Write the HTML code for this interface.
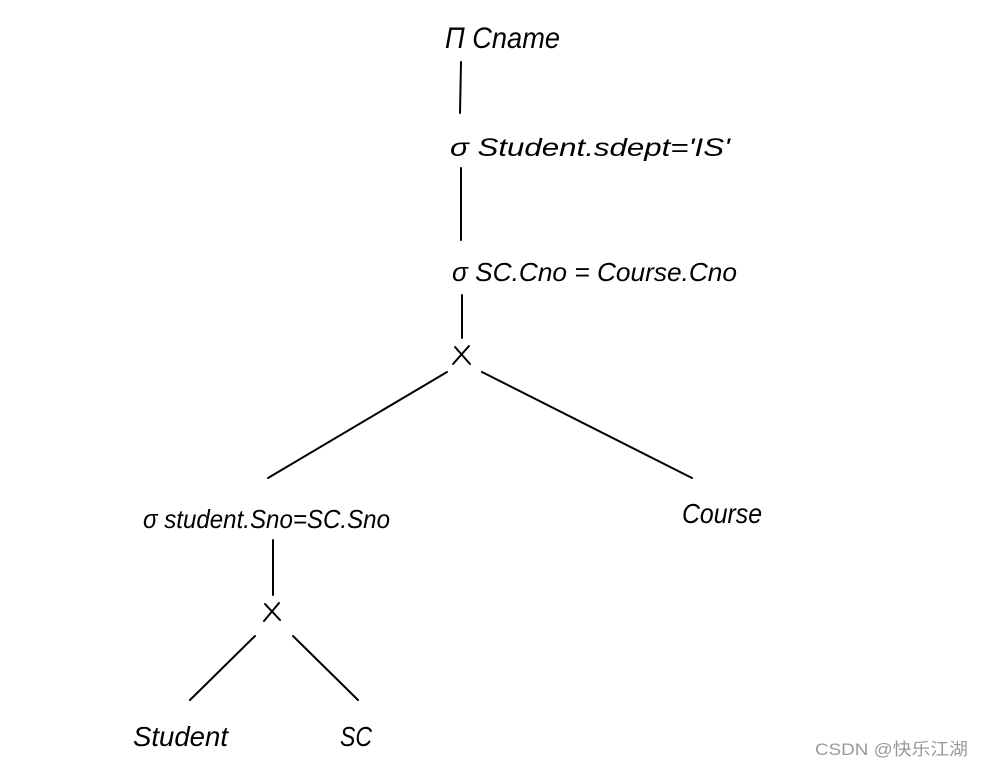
<!DOCTYPE html>
<html><head><meta charset="utf-8"><style>
html,body{margin:0;padding:0;background:#fff;}
svg{display:block}
text{font-family:"Liberation Sans",sans-serif;font-style:italic;fill:#000;}
</style></head><body>
<svg width="982" height="768" viewBox="0 0 982 768" xmlns="http://www.w3.org/2000/svg">
<g stroke="#000" stroke-width="2" fill="none" stroke-linecap="round">
<line x1="461" y1="62" x2="460" y2="113"/>
<line x1="461" y1="168" x2="461" y2="240"/>
<line x1="462" y1="295" x2="462" y2="338"/>
<line x1="455" y1="347" x2="470" y2="364"/>
<line x1="469" y1="346" x2="453" y2="364"/>
<line x1="447" y1="372" x2="268" y2="478"/>
<line x1="482" y1="372" x2="692" y2="478"/>
<line x1="273" y1="540" x2="273" y2="595"/>
<line x1="265" y1="604" x2="280" y2="620"/>
<line x1="279" y1="603" x2="264" y2="621"/>
<line x1="255" y1="636" x2="190" y2="700"/>
<line x1="293" y1="636" x2="358" y2="700"/>
</g>
<text x="445" y="48" font-size="30" textLength="115" lengthAdjust="spacingAndGlyphs">Π Cname</text>
<text x="450" y="156" font-size="25" textLength="280" lengthAdjust="spacingAndGlyphs">σ Student.sdept='IS'</text>
<text x="452" y="281" font-size="26" textLength="285" lengthAdjust="spacingAndGlyphs">σ SC.Cno = Course.Cno</text>
<text x="143" y="528" font-size="26" textLength="247" lengthAdjust="spacingAndGlyphs">σ student.Sno=SC.Sno</text>
<text x="682" y="523" font-size="28" textLength="80" lengthAdjust="spacingAndGlyphs">Course</text>
<text x="133" y="746" font-size="28" textLength="95" lengthAdjust="spacingAndGlyphs">Student</text>
<text x="340" y="746" font-size="28" textLength="32" lengthAdjust="spacingAndGlyphs">SC</text>
<text x="815" y="755" font-size="17" textLength="153" lengthAdjust="spacingAndGlyphs" style="font-style:normal;font-family:'Liberation Sans','Noto Sans CJK SC',sans-serif;fill:#999">CSDN @快乐江湖</text>
</svg>
</body></html>
